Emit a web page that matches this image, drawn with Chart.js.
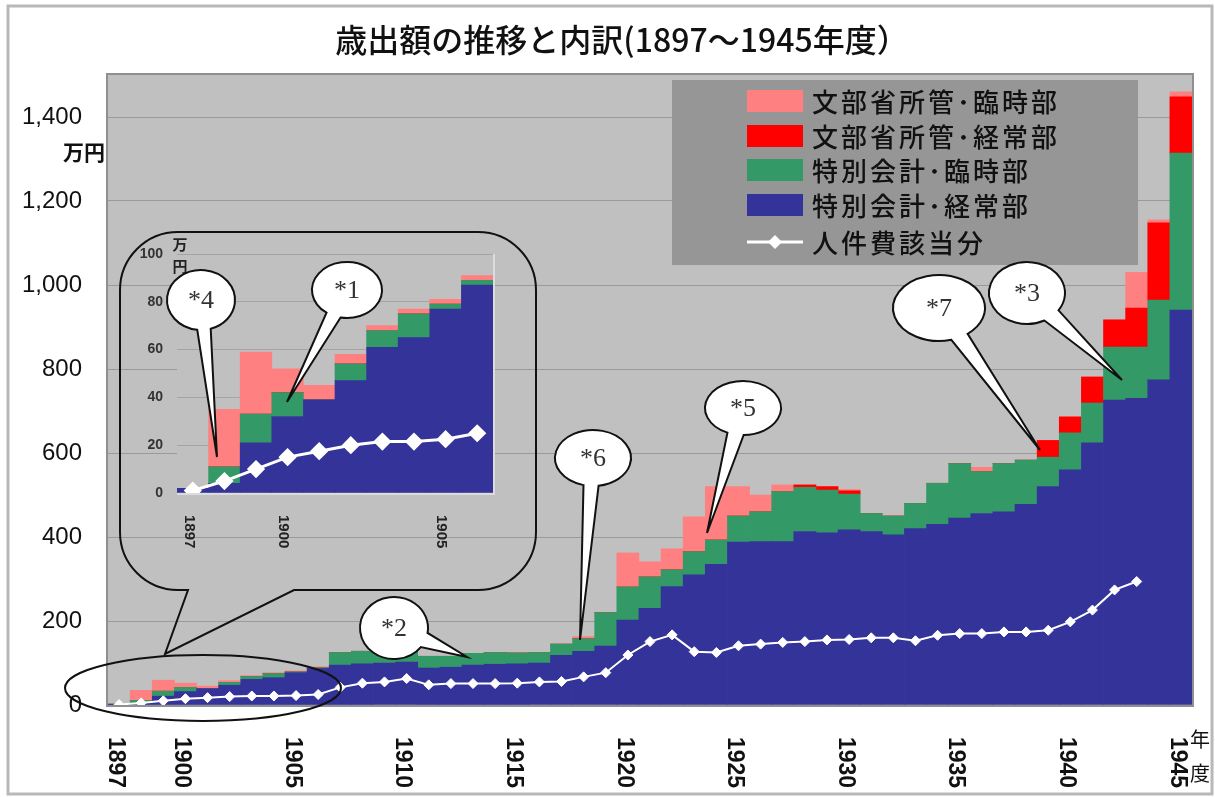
<!DOCTYPE html>
<html><head><meta charset="utf-8">
<script src="https://cdn.jsdelivr.net/npm/chart.js@4.4.1/dist/chart.umd.min.js"></script>
<style>
html,body{margin:0;padding:0;background:#fff;}
#wrap{position:relative;width:1215px;height:797px;}
canvas{position:absolute;left:0;top:0;}
</style></head><body>
<div id="wrap"><canvas id="main" width="1215" height="797"></canvas><canvas id="inset" width="1215" height="797"></canvas></div>
<script>
// ---- data (万円) ----
const years = ['1897','1898','1899','1900','1901','1902','1903','1904','1905','1906',
  '1907','1908','1909','1910','1911','1912','1913','1914','1915','1916',
  '1917','1918','1919','1920','1921','1922','1923','1924','1925','1926',
  '1927','1928','1929','1930','1931','1932','1933','1934','1935','1936',
  '1937','1938','1939','1940','1941','1942','1943','1944','1945'];
// 特別会計・経常部
const specialRegular = [2,4,21,32,39,47,61,65,77,87,
  95,98,100,102,88,90,95,97,98,100,
  118,128,140,202,230,282,310,335,388,389,
  389,413,410,417,413,405,420,430,445,456,
  460,478,520,560,624,726,730,774,940];
// 特別会計・臨時部
const specialTemporary = [0,7,12,10,0,7,7,10,2,2,
  30,30,28,26,28,26,28,28,26,25,
  27,30,80,79,75,40,55,58,62,71,
  119,105,102,85,43,45,60,98,130,100,
  115,105,70,88,95,126,122,190,374];
// 文部省所管・経常部
const ministryRegular = [0,0,0,0,0,0,0,0,0,0,
  0,0,0,0,0,0,0,0,0,0,
  0,0,0,0,0,0,0,0,0,0,
  0,6,8,8,0,0,0,0,0,0,
  0,0,40,38,62,65,93,184,134];
// 文部省所管・臨時部
const ministryTemporary = [0,24,26,10,6,4,2,2,2,2,
  0,0,0,0,0,0,0,0,0,0,
  0,5,0,81,36,50,83,127,70,40,
  16,0,0,3,0,0,0,0,0,10,
  0,0,0,0,0,0,85,7,12];
// 人件費該当分
const personnel = [1,5,10,15,17.5,20,21.5,21.5,22.5,25,
  42,52,55,63,48,51,51,51,52,55,
  56,67,77,119,151,167,127,125,141,145,
  149,151,155,156,160,160,153,166,170,170,
  174,174,178,198,226,274,294,null,null];
const xTickLabels = ['1897','1900','1905','1910','1915','1920','1925','1930','1935','1940','1945'];
const insetYears = years.slice(0,10);
const insetTickLabels = ['1897','1900','1905'];

const C_BLUE='#333399', C_GREEN='#339966', C_RED='#FF0000', C_PINK='#FF8080';
const CJK = '"Noto Sans CJK JP","Noto Sans CJK SC",sans-serif';

function balloon(ctx, cx, cy, rx, ry, tx, ty, text, d){
  const phi = Math.atan2((ty-cy)/ry, (tx-cx)/rx);
  d = d || 0.22;
  ctx.save();
  ctx.beginPath();
  ctx.ellipse(cx, cy, rx, ry, 0, phi+d, phi-d+Math.PI*2);
  ctx.lineTo(tx, ty);
  ctx.closePath();
  ctx.fillStyle='#fff'; ctx.fill();
  ctx.lineWidth=2; ctx.strokeStyle='#111'; ctx.lineJoin='miter'; ctx.stroke();
  ctx.fillStyle='#333';
  ctx.font='26px "Liberation Serif",serif';
  ctx.textAlign='center'; ctx.textBaseline='middle';
  ctx.fillText(text, cx, cy+1);
  ctx.restore();
}

const bgPlugin = {
  id:'bg',
  beforeDraw(chart){
    const {ctx, chartArea:a} = chart;
    ctx.save();
    ctx.fillStyle='#C0C0C0';
    ctx.fillRect(a.left, a.top, a.right-a.left, a.bottom-a.top);
    ctx.restore();
  }
};

const mainOverlay = {
  id:'mainOverlay',
  afterDraw(chart){
    const ctx = chart.ctx, a = chart.chartArea, xs = chart.scales.x;
    ctx.save();
    // plot border
    ctx.strokeStyle='#8f8f8f'; ctx.lineWidth=2;
    ctx.strokeRect(a.left-1, a.top-1, a.right-a.left+2, a.bottom-a.top+2);
    // outer frame
    ctx.strokeStyle='#b8b8b8'; ctx.lineWidth=3;
    ctx.strokeRect(8, 6, 1204, 788);
    // title
    ctx.fillStyle='#111';
    ctx.font='500 32px '+CJK;
    ctx.textAlign='center'; ctx.textBaseline='middle';
    ctx.fillText('歳出額の推移と内訳(1897～1945年度）', 622, 40);
    // unit
    ctx.font='bold 21px '+CJK;
    ctx.textAlign='right';
    ctx.fillText('万円', 105, 152);
    // x tick labels (rotated, read top-down)
    ctx.font='bold 23px "Liberation Sans",Arial,sans-serif';
    ctx.textAlign='left'; ctx.textBaseline='middle';
    xTickLabels.forEach(l=>{
      const x = xs.getPixelForValue(years.indexOf(l)) - 4;
      ctx.save(); ctx.translate(x, 737); ctx.rotate(Math.PI/2);
      ctx.fillText(l, 0, 0); ctx.restore();
    });
    ctx.font='20px '+CJK; ctx.textAlign='center';
    ctx.fillText('年', 1200, 739);
    ctx.fillText('度', 1200, 773);
    // legend
    ctx.fillStyle='#969696';
    ctx.fillRect(672, 80, 466, 185);
    const items = [
      ['文部省所管･臨時部', C_PINK, 101],
      ['文部省所管･経常部', C_RED, 136],
      ['特別会計･臨時部', C_GREEN, 170],
      ['特別会計･経常部', C_BLUE, 205]
    ];
    ctx.font='500 26px '+CJK; ctx.textAlign='left'; ctx.textBaseline='middle';
    try{ ctx.letterSpacing='3px'; }catch(e){}
    items.forEach(([t,c,y])=>{
      ctx.fillStyle=c; ctx.fillRect(747, y-11, 56, 22);
      ctx.fillStyle='#111'; ctx.fillText(t, 812, y+1);
    });
    ctx.strokeStyle='#fff'; ctx.lineWidth=3;
    ctx.beginPath(); ctx.moveTo(747,242); ctx.lineTo(803,242); ctx.stroke();
    ctx.fillStyle='#fff';
    ctx.beginPath(); ctx.moveTo(775,235); ctx.lineTo(782,242); ctx.lineTo(775,249); ctx.lineTo(768,242); ctx.closePath(); ctx.fill();
    ctx.fillStyle='#111'; ctx.fillText('人件費該当分', 812, 243);
    try{ ctx.letterSpacing='0px'; }catch(e){}
    // ellipse around early years
    ctx.strokeStyle='#111'; ctx.lineWidth=2;
    ctx.beginPath(); ctx.ellipse(203, 688, 138, 33, 0, 0, Math.PI*2); ctx.stroke();
    ctx.restore();
    // balloons
    balloon(ctx, 394, 628, 34, 31, 467, 657, '*2', 0.25);
    balloon(ctx, 593, 458, 38, 28, 580, 640, '*6', 0.2);
    balloon(ctx, 743, 408, 38, 27, 707, 533, '*5', 0.22);
    balloon(ctx, 939, 308, 46, 33, 1040, 450, '*7', 0.2);
    balloon(ctx, 1027, 293, 38, 31, 1122, 380, '*3', 0.25);
  }
};

new Chart(document.getElementById('main'), {
  type:'bar',
  data:{ labels: years, datasets:[
    {type:'line', label:'人件費該当分', data: personnel, stack:'line', order:0,
      borderColor:'#ffffff', backgroundColor:'#ffffff', borderWidth:2, tension:0,
      pointStyle:'rectRot', pointRadius:5, pointBackgroundColor:'#fff', pointBorderColor:'#fff', pointBorderWidth:1},
    {label:'特別会計・経常部', data: specialRegular, backgroundColor:C_BLUE, stack:'s', order:1},
    {label:'特別会計・臨時部', data: specialTemporary, backgroundColor:C_GREEN, stack:'s', order:1},
    {label:'文部省所管・経常部', data: ministryRegular, backgroundColor:C_RED, stack:'s', order:1},
    {label:'文部省所管・臨時部', data: ministryTemporary, backgroundColor:C_PINK, stack:'s', order:1}
  ]},
  options:{
    responsive:false, animation:false, devicePixelRatio:1,
    layout:{padding:{left:8, right:23, top:75, bottom:0}},
    datasets:{bar:{barPercentage:1, categoryPercentage:1, borderWidth:0}},
    plugins:{legend:{display:false}, tooltip:{enabled:false}, title:{display:false}},
    scales:{
      x:{stacked:true, grid:{display:false}, border:{display:false}, ticks:{display:false},
        afterFit(s){ s.height = 92; }},
      y:{stacked:true, min:0, max:1500,
        afterBuildTicks(s){ s.ticks = s.ticks.filter(t=>t.value<=1400); },
        grid:{color:'#9a9a9a', lineWidth:1, drawTicks:false}, border:{display:false},
        ticks:{stepSize:200, padding:26, color:'#111',
          font:{family:'"Liberation Sans",Arial,sans-serif', size:24},
          callback:v=>v.toLocaleString('en-US')},
        afterFit(s){ s.width = 100; }}
    }
  },
  plugins:[bgPlugin, mainOverlay]
});

const insetOverlay = {
  id:'insetOverlay',
  afterDraw(chart){
    const ctx = chart.ctx, a = chart.chartArea, xs = chart.scales.x;
    ctx.save();
    // light border right/bottom
    ctx.strokeStyle='#dcdcdc'; ctx.lineWidth=2;
    ctx.beginPath(); ctx.moveTo(a.right+1, a.top); ctx.lineTo(a.right+1, a.bottom+1); ctx.lineTo(a.left, a.bottom+1); ctx.stroke();
    // unit
    ctx.fillStyle='#222'; ctx.font='bold 15px '+CJK; ctx.textAlign='center'; ctx.textBaseline='middle';
    ctx.fillText('万', 180, 244); ctx.fillText('円', 180, 266);
    // x labels
    ctx.font='bold 15px "Liberation Sans",Arial,sans-serif'; ctx.textAlign='left';
    insetTickLabels.forEach(l=>{
      const x = xs.getPixelForValue(insetYears.indexOf(l)) - 4;
      ctx.save(); ctx.translate(x, 515); ctx.rotate(Math.PI/2); ctx.fillText(l, 0, 0); ctx.restore();
    });
    // big callout frame
    const L=120, R=536, T=232, B=590, r=58;
    ctx.strokeStyle='#111'; ctx.lineWidth=2;
    ctx.beginPath();
    ctx.moveTo(L+r, T);
    ctx.arcTo(R, T, R, B, r);
    ctx.arcTo(R, B, L, B, r);
    ctx.lineTo(294, B);
    ctx.lineTo(165, 654);
    ctx.lineTo(188, B);
    ctx.arcTo(L, B, L, T, r);
    ctx.arcTo(L, T, R, T, r);
    ctx.closePath();
    ctx.stroke();
    ctx.restore();
    balloon(ctx, 201, 300, 34, 30, 217, 457, '*4', 0.2);
    balloon(ctx, 347, 290, 35, 28, 287, 402, '*1', 0.22);
  }
};

new Chart(document.getElementById('inset'), {
  type:'bar',
  data:{ labels: insetYears, datasets:[
    {type:'line', data: personnel.slice(0,10), stack:'line', order:0,
      borderColor:'#ffffff', borderWidth:3, tension:0,
      pointStyle:'rectRot', pointRadius:7, pointBackgroundColor:'#fff', pointBorderColor:'#fff'},
    {data: specialRegular.slice(0,10), backgroundColor:C_BLUE, stack:'s', order:1},
    {data: specialTemporary.slice(0,10), backgroundColor:C_GREEN, stack:'s', order:1},
    {data: ministryRegular.slice(0,10), backgroundColor:C_RED, stack:'s', order:1},
    {data: ministryTemporary.slice(0,10), backgroundColor:C_PINK, stack:'s', order:1}
  ]},
  options:{
    responsive:false, animation:false, devicePixelRatio:1,
    layout:{padding:{left:132, right:722, top:254, bottom:294}},
    datasets:{bar:{barPercentage:1, categoryPercentage:1, borderWidth:0}},
    plugins:{legend:{display:false}, tooltip:{enabled:false}},
    scales:{
      x:{stacked:true, grid:{display:false}, border:{display:false}, ticks:{display:false},
        afterFit(s){ s.height = 10; }},
      y:{stacked:true, min:0, max:100,
        grid:{color:'#a4a4a4', lineWidth:1, drawTicks:false}, border:{display:false},
        ticks:{stepSize:20, padding:14, color:'#333',
          font:{family:'"Liberation Sans",Arial,sans-serif', size:14, weight:'bold'}},
        afterFit(s){ s.width = 45; }}
    }
  },
  plugins:[bgPlugin, insetOverlay]
});
</script>
</body></html>
